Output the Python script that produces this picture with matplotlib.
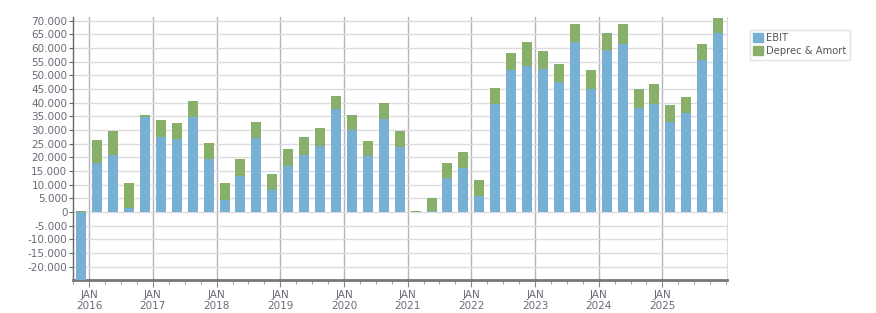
import matplotlib
matplotlib.use("Agg")
import matplotlib.pyplot as plt
from matplotlib.ticker import FuncFormatter, MultipleLocator, FixedLocator
from matplotlib.patches import Patch
import pandas as pd

quarters = pd.period_range("2015Q4", "2025Q4", freq="Q")
ebit = [-27000, 17900, 20900, 1500, 34800, 27400, 26700, 34800, 19400, 4400,
        13300, 27200, 8200, 17000, 20900, 24300, 37700, 30100, 20600, 34000,
        23800, 0, 400, 12600, 16200, 6000, 39600, 52100, 53500, 52300,
        47700, 62300, 45000, 59400, 61600, 38200, 39600, 33000, 36200, 55700,
        65500]
total = [500, 26300, 29600, 10600, 35500, 33700, 32600, 40600, 25200, 10600,
         19400, 32900, 13900, 23000, 27400, 30700, 42400, 35500, 26000, 39900,
         29600, 400, 5100, 17900, 22000, 11700, 45400, 58200, 62200, 58900,
         54100, 68800, 52000, 65500, 68800, 45000, 46800, 39100, 42100, 61500,
         71100]
deprec = [t - max(e, 0) for t, e in zip(total, ebit)]
years = list(range(2016, 2026))
series_names = ["EBIT", "Deprec & Amort"]

c_ebit = "#77b0d2"
c_dep = "#89b06a"
txt = "#6a6a78"

x = [p.year + (p.quarter - 1) * 0.25 + 0.125 for p in quarters]
bottoms = [max(e, 0) for e in ebit]

fig = plt.figure(figsize=(8.76, 3.13), dpi=100)
ax = fig.add_axes([0.0833, 0.1054, 0.7463, 0.8393])
w = 0.25 * 0.63
ax.bar(x, ebit, width=w, color=c_ebit, zorder=3)
ax.bar(x, deprec, width=w, bottom=bottoms, color=c_dep, zorder=3)

ax.set_xlim(2015.745, 2026.01)
ax.set_ylim(-24900, 71250)
ax.yaxis.set_major_locator(FixedLocator(list(range(-20000, 70001, 5000))))
ax.yaxis.set_major_formatter(FuncFormatter(lambda v, p: f"{int(v):,}".replace(",", ".")))
ax.xaxis.set_major_locator(FixedLocator(years))
ax.xaxis.set_minor_locator(MultipleLocator(0.25))
ax.set_xticklabels([f"JAN\n{y}" for y in years])

ax.grid(axis="y", color="#dcdcdc", linewidth=1, zorder=0)
ax.grid(axis="x", which="major", color="#b4b4b4", linewidth=1, zorder=0)

ax.spines["top"].set_visible(False)
ax.spines["right"].set_color("#dcdcdc")
ax.spines["left"].set_color("#666666")
ax.spines["left"].set_linewidth(1)
ax.spines["bottom"].set_color("#777777")
ax.spines["bottom"].set_linewidth(2)

ax.tick_params(axis="y", length=3, color="#666666", labelsize=7.5, labelcolor=txt, pad=1)
ax.tick_params(axis="x", which="major", length=5, color="#888888", labelsize=7.5, labelcolor=txt, pad=2)
ax.tick_params(axis="x", which="minor", length=3, color="#888888")

handles = [Patch(color=c_ebit), Patch(color=c_dep)]
leg = fig.legend(handles, series_names, loc="upper left", bbox_to_anchor=(0.856, 0.905),
                 fontsize=7.2, frameon=True, fancybox=False, handlelength=1.0,
                 handleheight=1.0, handletextpad=0.3, borderpad=0.35, labelspacing=0.3,
                 borderaxespad=0)
leg.get_frame().set_edgecolor("#dddddd")
leg.get_frame().set_linewidth(1)
for t in leg.get_texts():
    t.set_color("#555555")

fig.savefig("out.png", dpi=100)
